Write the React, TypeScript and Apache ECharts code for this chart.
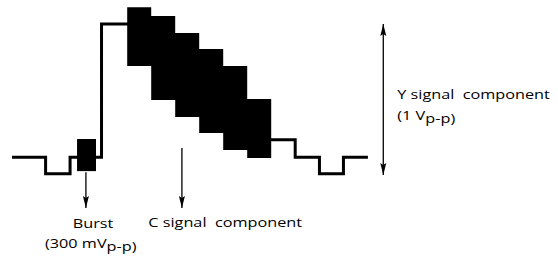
import React, { useEffect, useRef } from "react";
import * as echarts from "echarts";

// Time in arbitrary units, level in IRE-like units (blanking = 0, white = 100)
const waveformTime = [0, 14, 14, 24.2, 24.2, 37.3, 37.3, 49, 49, 59, 59, 69, 69, 79, 79, 89, 89, 99, 99, 107, 107, 118, 118, 128.1, 128.1, 138.1, 138.1, 148.3];
const waveformLevel = [0, 0, -12.5, -12.5, 0, 0, 100, 100, 90.5, 90.5, 74.5, 74.5, 61.7, 61.7, 49.7, 49.7, 36.9, 36.9, 21.5, 21.5, 13, 13, 0, 0, -12.5, -12.5, 0, 0];

const barNames = ["yellow", "cyan", "green", "magenta", "red", "blue"];
const barStart = [48, 58, 68, 78, 88, 98];
const barEnd = [58, 68, 78, 88, 98, 108];
const barLuma = [90.5, 74.5, 61.7, 49.7, 36.9, 21.5];
const barChroma = [44.3, 63.1, 63.1, 63.1, 63.1, 44.3];

const burstStart = 27.1;
const burstEnd = 35;
const burstLow = -10.5;
const burstHigh = 13.6;

// arrows: time, from level, to level, head at from, head at to
const arrowTime = [30.8, 70.8, 154.7];
const arrowFrom = [-11.3, 6.8, -13.4];
const arrowTo = [-38.2, -38.2, 100];
const arrowHeadFrom = [0, 0, 1];
const arrowHeadTo = [1, 1, 1];

const FONT = "'Open Sans', 'Noto Sans', sans-serif";
const FONT_SIZE = 13;
const SX = 1.25;

function measure(text: string): number {
  const c = document.createElement("canvas").getContext("2d");
  if (!c) return text.length * 7;
  c.font = `${FONT_SIZE}px ${FONT}`;
  return c.measureText(text).width * SX;
}

export default function App() {
  const ref = useRef<HTMLDivElement>(null);
  useEffect(() => {
    if (!ref.current) return;
    const chart = echarts.init(ref.current, undefined, { renderer: "svg" });

    const lows = barLuma.map((l, i) => l - barChroma[i] / 2);
    const highs = barLuma.map((l, i) => l + barChroma[i] / 2);

    const arrows = arrowTime.map((t, i) => [t, arrowFrom[i], arrowTo[i], arrowHeadFrom[i], arrowHeadTo[i]]);

    const textStyle = { fontFamily: FONT, fontSize: FONT_SIZE, fill: "#000", align: "left", verticalAlign: "middle" };
    const txt = (x: number, y: number, text: string) => ({
      type: "text",
      x,
      y,
      scaleX: SX,
      style: { ...textStyle, text },
    });

    const burstMain = "(300 mV";
    const yMain = "(1 V";
    const SUB_DY = 2.5;

    chart.setOption({
      animation: false,
      backgroundColor: "#fff",
      grid: { left: 12, right: 0, top: 4, bottom: 4 },
      xAxis: { type: "value", min: 0, max: 227.5, show: false },
      yAxis: { type: "value", min: -75, max: 115, show: false },
      series: [
        {
          type: "line",
          data: waveformTime.map((t, i) => [t, waveformLevel[i]]),
          symbol: "none",
          clip: false,
          lineStyle: { color: "#000", width: 3, join: "miter" },
          z: 2,
        },
        {
          // chroma on the colour bars: one filled staircase outline built from the bar data
          type: "custom",
          data: [[barStart[0], barEnd[barEnd.length - 1], Math.min(...lows), Math.max(...highs)]],
          encode: { x: [0, 1], y: [2, 3] },
          clip: false,
          z: 3,
          renderItem: (params: any, api: any) => {
            const pts: number[][] = [];
            const n = barStart.length;
            for (let i = 0; i < n; i++) {
              pts.push(api.coord([barStart[i], highs[i]]));
              pts.push(api.coord([barEnd[i], highs[i]]));
            }
            for (let i = n - 1; i >= 0; i--) {
              pts.push(api.coord([barEnd[i], lows[i]]));
              pts.push(api.coord([barStart[i], lows[i]]));
            }
            return { type: "polygon", shape: { points: pts }, style: { fill: "#000" } };
          },
        },
        {
          // colour burst
          type: "custom",
          data: [[burstStart, burstEnd, burstLow, burstHigh]],
          encode: { x: [0, 1], y: [2, 3] },
          clip: false,
          z: 3,
          renderItem: (params: any, api: any) => {
            const b0 = api.coord([api.value(0), api.value(3)]);
            const b1 = api.coord([api.value(1), api.value(2)]);
            return {
              type: "rect",
              shape: { x: b0[0], y: b0[1], width: b1[0] - b0[0], height: b1[1] - b0[1] },
              style: { fill: "#000" },
            };
          },
        },
        {
          type: "custom",
          data: arrows,
          encode: { x: 0, y: [1, 2] },
          clip: false,
          z: 4,
          renderItem: (params: any, api: any) => {
            const t = api.value(0);
            const pa = api.coord([t, api.value(1)]);
            const pb = api.coord([t, api.value(2)]);
            const children: any[] = [
              {
                type: "line",
                shape: { x1: pa[0], y1: pa[1], x2: pb[0], y2: pb[1] },
                style: { stroke: "#000", lineWidth: 1.3 },
              },
            ];
            const head = (tip: number[], other: number[]) => {
              const dir = tip[1] > other[1] ? 1 : -1;
              const L = 12;
              const W = 3;
              return {
                type: "polygon",
                shape: {
                  points: [
                    [tip[0], tip[1]],
                    [tip[0] - W, tip[1] - dir * L],
                    [tip[0], tip[1] - dir * (L - 2)],
                    [tip[0] + W, tip[1] - dir * L],
                  ],
                },
                style: { fill: "#000" },
              };
            };
            if (api.value(3)) children.push(head(pa, pb));
            if (api.value(4)) children.push(head(pb, pa));
            return { type: "group", children };
          },
        },
      ],
      graphic: [
        txt(72.7, 222.7, "Burst"),
        txt(45, 242.7, burstMain),
        txt(45 + measure(burstMain), 242.7 + SUB_DY, "p-p)"),
        txt(148.3, 221.7, "C signal  component"),
        txt(397.3, 93.3, "Y signal  component"),
        txt(397.3, 115, yMain),
        txt(397.3 + measure(yMain), 115 + SUB_DY, "p-p)"),
      ],
    });
    return () => chart.dispose();
  }, []);
  return (
    <div
      ref={ref}
      style={{ position: "absolute", left: 0, top: 0, width: 558, height: 261, background: "#fff" }}
    />
  );
}
